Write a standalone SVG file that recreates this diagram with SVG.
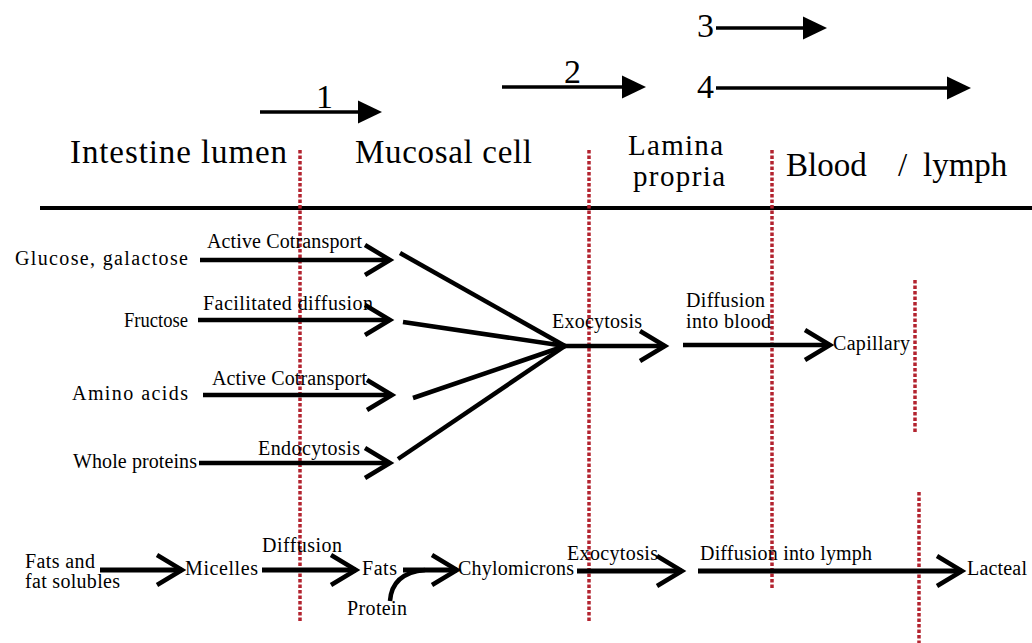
<svg xmlns="http://www.w3.org/2000/svg" width="1032" height="643" viewBox="0 0 1032 643">
<style>
  text { font-family: "Liberation Serif", "Times New Roman", Times, serif; fill: #000; }
  .hd { font-size: 33px; }
  .hd2 { font-size: 29px; }
  .num { font-size: 34px; }
  .lb { font-size: 20px; }
  .flow { stroke: #000; stroke-width: 4.5; fill: none; }
  .flowb { stroke: #000; stroke-width: 5; fill: none; }
  .top { stroke: #000; stroke-width: 3.5; fill: none; }
  .red { stroke: #b3232f; stroke-width: 3.5; stroke-dasharray: 3.5 2; fill: none; }
</style>
<defs>
  <marker id="chev" markerUnits="userSpaceOnUse" viewBox="-32 -20 40 40" markerWidth="40" markerHeight="40" refX="0" refY="0" orient="auto" overflow="visible">
    <path d="M-25,-15 L0,0 L-25,15" fill="none" stroke="#000" stroke-width="4.5"/>
  </marker>
  <marker id="tri" markerUnits="userSpaceOnUse" viewBox="0 -13 26 26" markerWidth="26" markerHeight="26" refX="0" refY="0" orient="auto" overflow="visible">
    <path d="M0,-11.5 L24,0 L0,11.5 Z" fill="#000"/>
  </marker>
</defs>
<rect width="1032" height="643" fill="#fff"/>

<!-- compartment boundaries -->
<g id="boundaries">
  <line x1="40" y1="208" x2="1032" y2="208" stroke="#000" stroke-width="4"/>
  <line class="red" x1="300" y1="150" x2="300" y2="623"/>
  <line class="red" x1="589" y1="150" x2="589" y2="622"/>
  <line class="red" x1="772" y1="150" x2="772" y2="590"/>
  <line class="red" x1="915" y1="280" x2="915" y2="433"/>
  <line class="red" x1="919" y1="492" x2="919" y2="643"/>
</g>

<!-- header -->
<g id="header">
  <text class="hd" x="70" y="163" textLength="217" lengthAdjust="spacing">Intestine lumen</text>
  <text class="hd" x="355" y="163" textLength="177" lengthAdjust="spacing">Mucosal cell</text>
  <text class="hd2" x="628" y="155" textLength="95" lengthAdjust="spacing">Lamina</text>
  <text class="hd2" x="633" y="186" textLength="92" lengthAdjust="spacing">propria</text>
  <text class="hd" x="786" y="176">Blood</text>
  <text class="hd" x="898" y="176">/</text>
  <text class="hd" x="923" y="176">lymph</text>
</g>

<!-- numbered route arrows -->
<g id="routes">
  <text class="num" x="316" y="108">1</text>
  <line class="top" x1="260" y1="112" x2="358" y2="112" marker-end="url(#tri)"/>
  <text class="num" x="564" y="83">2</text>
  <line class="top" x1="502" y1="87" x2="622" y2="87" marker-end="url(#tri)"/>
  <text class="num" x="697" y="37">3</text>
  <line class="top" x1="716" y1="28" x2="803" y2="28" marker-end="url(#tri)"/>
  <text class="num" x="697" y="98">4</text>
  <line class="top" x1="716" y1="88" x2="947" y2="88" marker-end="url(#tri)"/>
</g>

<!-- connectors -->
<g id="connectors">
  <line class="flow" x1="200" y1="260" x2="390" y2="260" marker-end="url(#chev)"/>
  <line class="flow" x1="198" y1="320" x2="390" y2="320" marker-end="url(#chev)"/>
  <line class="flow" x1="203" y1="395" x2="392" y2="395" marker-end="url(#chev)"/>
  <line class="flow" x1="199" y1="463" x2="390" y2="463" marker-end="url(#chev)"/>
  <line class="flow" x1="400" y1="253" x2="565" y2="346"/>
  <line class="flow" x1="403" y1="322" x2="565" y2="346"/>
  <line class="flow" x1="413" y1="398" x2="565" y2="346"/>
  <line class="flow" x1="398" y1="459" x2="565" y2="346"/>
  <line class="flow" x1="563" y1="346" x2="665" y2="346" marker-end="url(#chev)"/>
  <line class="flow" x1="683" y1="345" x2="830" y2="345" marker-end="url(#chev)"/>

  <line class="flowb" x1="100" y1="570" x2="182" y2="570" marker-end="url(#chev)"/>
  <line class="flowb" x1="262" y1="570" x2="356" y2="570" marker-end="url(#chev)"/>
  <line class="flowb" x1="403" y1="570" x2="457" y2="570" marker-end="url(#chev)"/>
  <path class="flow" d="M390,601 Q392,573 425,570"/>
  <line class="flowb" x1="577" y1="571" x2="682" y2="571" marker-end="url(#chev)"/>
  <line class="flowb" x1="698" y1="571" x2="962" y2="571" marker-end="url(#chev)"/>
</g>

<!-- nodes / labels -->
<g id="n-glucose"><text class="lb" x="15" y="265" textLength="173" lengthAdjust="spacing">Glucose, galactose</text></g>
<g id="l-active1"><text class="lb" x="207" y="248" textLength="155" lengthAdjust="spacing">Active Cotransport</text></g>
<g id="n-fructose"><text class="lb" x="124" y="327" textLength="64" lengthAdjust="spacingAndGlyphs">Fructose</text></g>
<g id="l-facilitated"><text class="lb" x="203" y="310" textLength="170" lengthAdjust="spacing">Facilitated diffusion</text></g>
<g id="n-amino"><text class="lb" x="72" y="400" textLength="116" lengthAdjust="spacing">Amino acids</text></g>
<g id="l-active2"><text class="lb" x="212" y="385" textLength="155" lengthAdjust="spacing">Active Cotransport</text></g>
<g id="n-whole"><text class="lb" x="73" y="468" textLength="124" lengthAdjust="spacing">Whole proteins</text></g>
<g id="l-endo"><text class="lb" x="258" y="455" textLength="102" lengthAdjust="spacing">Endocytosis</text></g>
<g id="l-exo1"><text class="lb" x="552" y="328" textLength="90" lengthAdjust="spacing">Exocytosis</text></g>
<g id="l-diffblood"><text class="lb" x="686" y="307" textLength="79" lengthAdjust="spacing">Diffusion</text><text class="lb" x="686" y="328" textLength="85" lengthAdjust="spacing">into blood</text></g>
<g id="n-capillary"><text class="lb" x="833" y="350" textLength="77" lengthAdjust="spacing">Capillary</text></g>

<g id="n-fats-in"><text class="lb" x="25" y="568" textLength="70" lengthAdjust="spacing">Fats and</text><text class="lb" x="25" y="588" textLength="95" lengthAdjust="spacing">fat solubles</text></g>
<g id="n-micelles"><text class="lb" x="185" y="575" textLength="73" lengthAdjust="spacing">Micelles</text></g>
<g id="l-diff2"><text class="lb" x="262" y="552" textLength="80" lengthAdjust="spacing">Diffusion</text></g>
<g id="n-fats"><text class="lb" x="362" y="575" textLength="35" lengthAdjust="spacing">Fats</text></g>
<g id="n-protein"><text class="lb" x="347" y="615" textLength="60" lengthAdjust="spacing">Protein</text></g>
<g id="n-chylo"><text class="lb" x="458" y="575" textLength="116" lengthAdjust="spacing">Chylomicrons</text></g>
<g id="l-exo2"><text class="lb" x="567" y="560" textLength="91" lengthAdjust="spacing">Exocytosis</text></g>
<g id="l-difflymph"><text class="lb" x="700" y="560" textLength="172" lengthAdjust="spacing">Diffusion into lymph</text></g>
<g id="n-lacteal"><text class="lb" x="967" y="575" textLength="60" lengthAdjust="spacing">Lacteal</text></g>
</svg>
